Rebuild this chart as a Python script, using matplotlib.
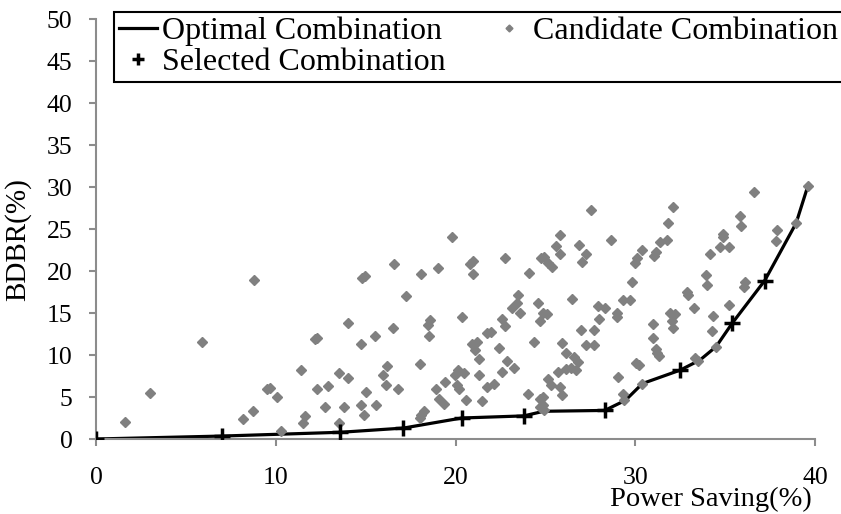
import matplotlib
matplotlib.use("Agg")
import matplotlib.pyplot as plt

plt.rcParams['font.family'] = ['Liberation Serif', 'DejaVu Serif']

# candidate combinations (power saving %, BDBR %)
cand_x = [1.6, 3.0, 5.9, 8.8, 8.2, 8.75, 9.5, 9.7, 10.05, 10.3,
          14.8, 14.95, 14.0, 12.2, 12.3, 14.75, 11.4, 13.5, 14.0, 12.3,
          12.9, 15.0, 12.75, 13.8, 14.75, 11.6, 11.5, 14.9, 13.5,
          19.8, 16.6, 18.1, 19.05, 17.25, 18.6, 18.45, 18.55, 16.55, 15.5,
          16.2, 18.0, 15.95, 16.15, 16.8, 19.4, 18.9, 19.1, 19.35, 19.95,
          15.6, 18.1, 18.25, 18.0,
          21.0, 20.8, 21.0, 22.75, 24.1, 24.75, 23.5, 23.4, 23.15, 23.6,
          24.6, 24.7, 20.35, 22.6, 22.75, 21.75, 22.0, 20.9, 21.2, 21.1,
          22.4, 24.35, 21.3, 22.85, 23.25, 22.6, 20.15, 20.45, 21.3, 20.1,
          20.2, 21.75, 22.15, 20.6, 21.45, 24.05, 24.7, 24.7,
          27.55, 25.8, 25.6, 25.8, 24.95, 25.15, 25.35, 26.85, 27.25, 27.05,
          28.65, 26.5, 24.85, 25.1, 27.95, 28.3, 28.0, 29.3, 29.0, 29.0,
          27.0, 27.7, 27.25, 27.7, 25.9, 26.15, 26.6, 26.8, 26.4, 26.15,
          25.7, 26.7, 25.15, 25.3, 25.8, 25.9, 24.85, 24.85, 29.05, 29.3,
          29.4, 24.9,
          32.1, 31.8, 31.35, 31.75, 31.15, 31.05, 30.4, 30.1, 30.0, 29.8,
          29.7, 34.15, 33.95, 34.0, 32.9, 32.95, 33.25, 31.95, 32.2, 32.05,
          32.1, 31.0, 31.0, 31.15, 31.2, 31.3, 30.05, 30.2, 34.3, 34.25,
          33.35, 33.5, 30.4,
          39.6, 36.6, 35.85, 35.9, 34.9, 34.9, 34.7, 35.2, 37.9, 37.85,
          38.95, 36.1, 36.05, 35.2, 34.5]
cand_y = [2.0, 5.5, 11.5, 18.9, 2.4, 3.3, 5.9, 6.1, 5.0, 0.9,
          19.2, 19.4, 13.8, 11.9, 12.0, 11.3, 8.2, 7.8, 7.3, 6.0,
          6.3, 5.6, 3.8, 3.8, 4.0, 2.7, 1.9, 2.9, 1.9,
          24.0, 20.8, 19.6, 20.4, 17.0, 14.2, 13.6, 12.3, 13.2, 12.3,
          8.7, 8.9, 7.6, 6.4, 5.9, 6.75, 6.0, 4.8, 4.2, 7.6,
          4.0, 2.9, 3.3, 2.5,
          21.2, 20.8, 19.6, 21.5, 19.8, 21.6, 17.2, 16.2, 15.6, 15.0,
          16.2, 14.0, 14.5, 14.3, 13.5, 12.6, 12.7, 11.3, 11.6, 10.6,
          10.8, 11.5, 9.5, 9.3, 8.4, 8.0, 8.2, 7.8, 7.6, 6.4,
          6.0, 6.2, 6.6, 4.6, 4.5, 5.4, 4.8, 3.8,
          27.3, 24.3, 23.0, 22.0, 21.7, 20.9, 20.5, 23.1, 22.0, 21.1,
          23.7, 16.7, 15.0, 14.9, 15.8, 15.6, 14.25, 16.6, 15.0, 14.5,
          13.0, 13.0, 11.2, 11.2, 11.4, 10.2, 9.8, 9.2, 8.4, 8.3,
          8.0, 8.2, 7.1, 6.4, 6.2, 5.2, 5.0, 4.0, 7.4, 5.4,
          4.6, 3.4,
          27.6, 25.7, 23.5, 23.7, 22.3, 21.8, 22.5, 21.5, 20.9, 18.7,
          16.6, 22.0, 19.5, 18.3, 17.5, 17.2, 15.6, 15.0, 14.9, 14.0,
          13.2, 13.7, 12.0, 10.7, 10.2, 9.9, 9.0, 8.8, 14.6, 12.8,
          9.6, 9.3, 6.6,
          30.1, 29.4, 26.5, 25.3, 24.4, 24.0, 22.9, 22.8, 24.9, 23.6,
          25.7, 18.7, 18.1, 15.9, 11.0]

# optimal combination curve
opt_x = [0, 7.0, 13.6, 17.1, 20.35, 23.8, 24.9, 28.3, 29.45, 30.4,
         32.5, 33.6, 34.5, 35.4, 37.2, 38.95, 39.6]
opt_y = [0, 0.35, 0.8, 1.3, 2.5, 2.75, 3.3, 3.4, 4.6, 6.6,
         8.2, 9.4, 11.0, 13.8, 18.85, 25.7, 30.1]

# selected combinations
sel_x = [0, 7.0, 13.6, 17.1, 20.35, 23.8, 28.3, 32.5, 35.4, 37.2]
sel_y = [0, 0.35, 0.8, 1.3, 2.5, 2.75, 3.4, 8.2, 13.8, 18.85]

fig = plt.figure(figsize=(8.41, 5.14), dpi=100)
ax = fig.add_axes([96 / 841, 1 - 439 / 514, 719 / 841, 420 / 514])

ax.plot(opt_x, opt_y, color='black', lw=2.3, zorder=2, label='Optimal Combination')
ax.plot(cand_x, cand_y, ls='none', marker='D', ms=5, color='#808080',
        zorder=3, label='Candidate Combination')
ax.plot(sel_x, sel_y, ls='none', marker='+', ms=12, mew=2.5, color='black',
        zorder=4, label='Selected Combination')

ax.set_xlim(0, 40)
ax.set_ylim(0, 50)
ax.set_xticks(range(0, 41, 10))
ax.set_yticks(range(0, 51, 5))
for s in ['top', 'right']:
    ax.spines[s].set_visible(False)
for s in ['left', 'bottom']:
    ax.spines[s].set_color('#8c8c8c')
    ax.spines[s].set_linewidth(1.5)
ax.tick_params(axis='both', direction='out', length=5, width=1.5, color='#8c8c8c',
               labelsize=18.5)
ax.tick_params(axis='x', pad=15)
ax.tick_params(axis='y', pad=12)

ax.set_xlabel('Power Saving(%)', fontsize=20.5, loc='right')
ax.xaxis.set_label_coords(0.996, -0.115)
ax.set_ylabel('BDBR(%)', fontsize=21)
ax.yaxis.set_label_coords(-0.09, 0.474)

h, l = ax.get_legend_handles_labels()
order = [0, 2, 1]
leg = ax.legend([h[i] for i in order], [l[i] for i in order], ncol=2,
                loc='upper left', bbox_to_anchor=(114 / 841, 1 - 12 / 514),
                bbox_transform=fig.transFigure, borderaxespad=0,
                fontsize=23, frameon=True, fancybox=False, framealpha=1,
                edgecolor='black', handlelength=1.2, handletextpad=0.15,
                columnspacing=1.4, labelspacing=0.05, borderpad=0.15,
                markerscale=0.7)
leg.get_frame().set_linewidth(1.5)

fig.savefig('out.png', dpi=100)
